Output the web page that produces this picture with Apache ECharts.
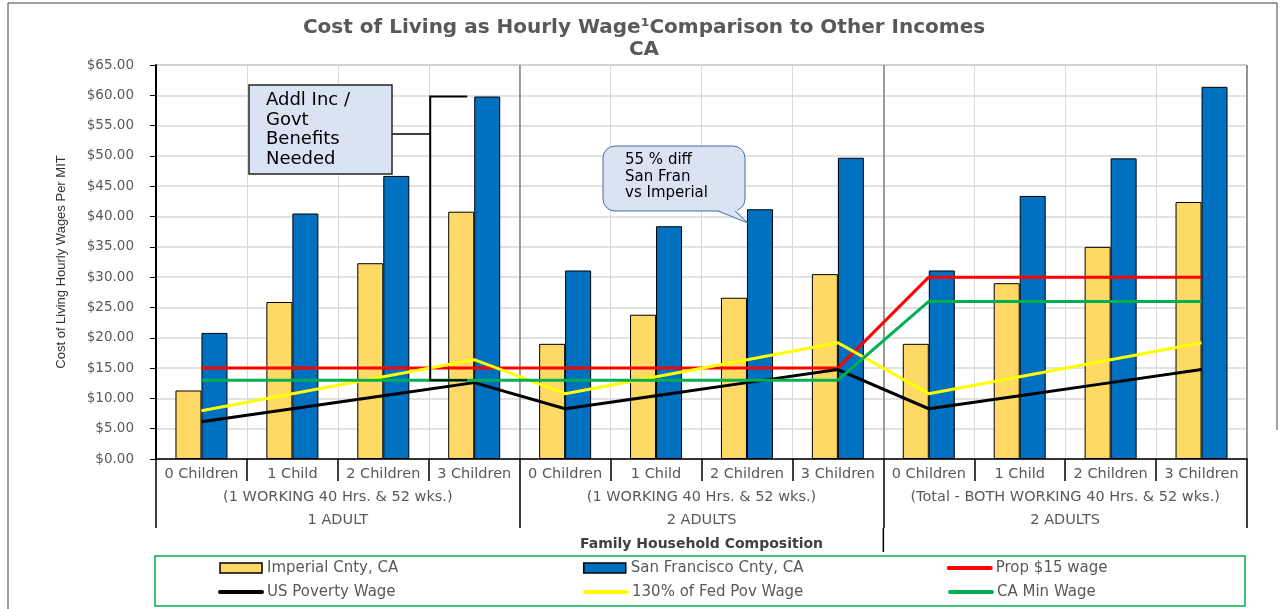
<!DOCTYPE html>
<html>
<head>
<meta charset="utf-8">
<script src="https://cdn.jsdelivr.net/npm/echarts@6/dist/echarts.min.js"></script>
<style>
  html, body { margin: 0; padding: 0; background: #fff; }
  #chart { width: 1288px; height: 609px; }
</style>
</head>
<body>
<div id="chart"></div>
<script>
// categories (3 levels)
const childLabels = ['0 Children', '1 Child', '2 Children', '3 Children',
  '0 Children', '1 Child', '2 Children', '3 Children',
  '0 Children', '1 Child', '2 Children', '3 Children'];
const groupWork = ['(1 WORKING 40 Hrs. & 52 wks.)', '(1 WORKING 40 Hrs. & 52 wks.)',
  '(Total - BOTH WORKING 40 Hrs. & 52 wks.)'];
const groupAdults = ['1 ADULT', '2 ADULTS', '2 ADULTS'];

// series values, $ per hour
const imperial = [11.3, 25.9, 32.3, 40.8, 19.0, 23.8, 26.6, 30.5, 19.0, 29.0, 35.0, 42.4];
const sanFran = [20.8, 40.5, 46.7, 59.8, 31.1, 38.4, 41.2, 49.7, 31.1, 43.4, 49.6, 61.4];
const prop15 = [15, 15, 15, 15, 15, 15, 15, 15, 30, 30, 30, 30];
const usPoverty = [6.13, 8.29, 10.44, 12.6, 8.29, 10.44, 12.6, 14.75, 8.29, 10.44, 12.6, 14.75];
const fedPov130 = [7.97, 10.78, 13.58, 16.38, 10.78, 13.58, 16.38, 19.18, 10.78, 13.58, 16.38, 19.18];
const caMin = [13, 13, 13, 13, 13, 13, 13, 13, 26, 26, 26, 26];

const chart = echarts.init(document.getElementById('chart'));
const grey = '#595959';
const font = 'DejaVu Sans';

const lineSeries = (name, data, color) => ({
  name: name,
  type: 'line',
  data: data,
  symbol: 'none',
  lineStyle: { color: color, width: 3 },
  itemStyle: { color: color },
  z: 3,
});

const barItem = (name) => ({ name: name, icon: 'rect', itemStyle: { borderWidth: 1.5 } });
const lineItem = (name) => ({ name: name, itemStyle: { opacity: 0 }, lineStyle: { width: 4, cap: 'round' } });

chart.setOption({
  animation: false,
  title: {
    text: 'Cost of Living as Hourly Wage¹Comparison to Other Incomes\nCA',
    left: 'center',
    top: 12,
    textStyle: { fontFamily: font, fontWeight: 'bold', fontSize: 20, color: grey, lineHeight: 22 },
  },
  grid: { left: 156, right: 41, top: 65, bottom: 150, show: true, borderColor: '#7f7f7f', borderWidth: 1 },
  legend: {
    left: 213,
    top: 551,
    width: 1100,
    itemGap: 0,
    itemWidth: 42,
    itemHeight: 10,
    textStyle: { width: 316, lineHeight: 24, fontFamily: font, fontSize: 15, color: grey },
    data: [barItem('Imperial Cnty, CA'), barItem('San Francisco Cnty, CA'), lineItem('Prop $15 wage'),
      lineItem('US Poverty Wage'), lineItem('130% of Fed Pov Wage'), lineItem('CA Min Wage')],
  },
  xAxis: [
    {
      type: 'category',
      data: childLabels,
      axisLine: { lineStyle: { color: '#000', width: 1.5 } },
      axisTick: { show: true, interval: 0, length: 22, lineStyle: { color: '#000', width: 1.5 } },
      axisLabel: { interval: 0, margin: 8, fontFamily: font, fontSize: 14.5, color: grey },
      splitLine: { show: true, interval: 0, lineStyle: { color: '#d9d9d9', width: 1 } },
    },
    {
      type: 'category',
      position: 'bottom',
      data: groupWork.map((w, i) => w + '\n' + groupAdults[i]),
      axisLine: { show: false },
      axisTick: { show: true, interval: 0, length: 69, lineStyle: { color: '#000', width: 1.5 } },
      axisLabel: { interval: 0, margin: 27, lineHeight: 23, fontFamily: font, fontSize: 14.5, color: grey },
      splitLine: { show: true, interval: 0, lineStyle: { color: '#808080', width: 1.5 } },
      name: 'Family Household Composition',
      nameLocation: 'middle',
      nameGap: 71,
      nameTextStyle: { fontFamily: font, fontWeight: 'bold', fontSize: 14, color: '#404040' },
    },
  ],
  yAxis: {
    type: 'value',
    min: 0,
    max: 65,
    interval: 5,
    name: 'Cost of Living Hourly Wages Per MIT',
    nameLocation: 'middle',
    nameGap: 88,
    nameTextStyle: { fontFamily: 'Liberation Sans Narrow, Liberation Sans, sans-serif', fontSize: 13, color: '#333' },
    axisLine: { show: true, lineStyle: { color: '#000', width: 2 } },
    axisTick: { show: true, length: 6, lineStyle: { color: '#000' } },
    axisLabel: { margin: 22, fontFamily: font, fontSize: 13.5, color: grey, formatter: (v) => '$' + v.toFixed(2) },
    splitLine: { lineStyle: { color: '#d9d9d9', width: 1.5 } },
  },
  series: [
    {
      name: 'Imperial Cnty, CA',
      type: 'bar',
      data: imperial,
      barWidth: 26,
      barGap: '0%',
      itemStyle: { color: '#FFD966', borderColor: '#000', borderWidth: 1 },
    },
    {
      name: 'San Francisco Cnty, CA',
      type: 'bar',
      data: sanFran,
      barWidth: 26,
      barGap: '0%',
      itemStyle: { color: '#0070C0', borderColor: '#000', borderWidth: 1 },
    },
    lineSeries('Prop $15 wage', prop15, '#FF0000'),
    lineSeries('US Poverty Wage', usPoverty, '#000000'),
    lineSeries('130% of Fed Pov Wage', fedPov130, '#FFFF00'),
    lineSeries('CA Min Wage', caMin, '#00B050'),
  ],
});

// annotations, placed from the axes
const px = (i) => chart.convertToPixel({ xAxisIndex: 0 }, i);
const py = (v) => chart.convertToPixel({ yAxisIndex: 0 }, v);
const bx = px(3) - 44;
const bTop = py(sanFran[3]);
const bBot = py(caMin[3]);
const gapX = (px(7) + px(8)) / 2;

chart.setOption({
  graphic: [
    // outer frame
    { type: 'polyline', silent: true, shape: { points: [[1277, 430], [1277, 3], [8, 3], [8, 609]] },
      style: { stroke: '#404040', lineWidth: 1, fill: null } },
    // legend frame
    { type: 'rect', silent: true, shape: { x: 155, y: 556, width: 1090, height: 50 },
      style: { stroke: '#00B050', lineWidth: 1.5, fill: null } },
    { type: 'line', silent: true, shape: { x1: gapX, y1: 528, x2: gapX, y2: 552 },
      style: { stroke: '#000', lineWidth: 1.5 } },
    // bracket
    { type: 'polyline', silent: true, z: 10,
      shape: { points: [[bx + 37, bTop], [bx, bTop], [bx, bBot], [bx + 37, bBot]] },
      style: { stroke: '#000', lineWidth: 2, fill: null } },
    { type: 'line', silent: true, z: 10, shape: { x1: 392, y1: 134, x2: bx, y2: 134 },
      style: { stroke: '#000', lineWidth: 1.5 } },
    { type: 'rect', silent: true, z: 10, shape: { x: 249, y: 85, width: 143, height: 89 },
      style: { fill: '#DAE3F3', stroke: '#262626', lineWidth: 1.5 } },
    { type: 'text', silent: true, z: 11, x: 266, y: 91,
      style: { text: 'Addl Inc /\nGovt\nBenefits\nNeeded', fontFamily: font, fontSize: 18, lineHeight: 19.5, fill: '#000' } },
    // callout
    { type: 'rect', silent: true, z: 10, shape: { x: 603, y: 146, width: 142, height: 65, r: 12 },
      style: { fill: '#DAE3F3', stroke: '#41719C', lineWidth: 1 } },
    { type: 'polygon', silent: true, z: 11, shape: { points: [[716, 209.5], [737, 209.5], [748, 223]] },
      style: { fill: '#DAE3F3' } },
    { type: 'polyline', silent: true, z: 11, shape: { points: [[718, 211], [748, 223], [735, 211]] },
      style: { stroke: '#41719C', lineWidth: 1, fill: null } },
    { type: 'text', silent: true, z: 12, x: 625, y: 152,
      style: { text: '55 % diff\nSan Fran\nvs Imperial', fontFamily: font, fontSize: 15, lineHeight: 16.5, fill: '#000' } },
  ],
});
</script>
</body>
</html>
